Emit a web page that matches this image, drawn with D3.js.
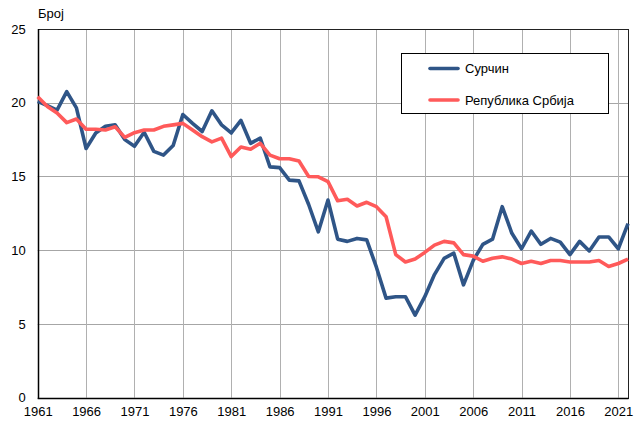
<!DOCTYPE html>
<html><head><meta charset="utf-8">
<script src="https://cdn.jsdelivr.net/npm/d3@7"></script>
<style>body{margin:0;background:#fff}svg{display:block;font-family:"Liberation Sans",Arial,sans-serif}</style>
</head><body><svg id="c" width="635" height="421"></svg>
<script>
const years = d3.range(1961, 2023);
const surcin = [20.1,19.8,19.5,20.75,19.65,16.9,17.95,18.4,18.5,17.5,17.05,18.0,16.7,16.45,17.1,19.2,18.6,18.05,19.45,18.5,17.95,18.8,17.25,17.6,15.65,15.6,14.75,14.7,13.1,11.25,13.4,10.75,10.6,10.8,10.7,8.85,6.75,6.85,6.85,5.6,6.85,8.35,9.45,9.8,7.65,9.3,10.4,10.75,12.95,11.15,10.1,11.3,10.4,10.8,10.55,9.7,10.6,9.95,10.9,10.9,10.1,11.8];
const srbija = [20.4,19.75,19.3,18.65,18.9,18.2,18.2,18.15,18.37,17.65,17.97,18.15,18.15,18.4,18.5,18.6,18.15,17.7,17.35,17.6,16.35,17.0,16.85,17.25,16.45,16.2,16.2,16.05,15.0,14.98,14.65,13.35,13.45,13.0,13.25,12.95,12.27,9.7,9.2,9.4,9.85,10.35,10.6,10.5,9.7,9.6,9.25,9.45,9.55,9.4,9.1,9.25,9.1,9.3,9.3,9.2,9.2,9.2,9.3,8.9,9.1,9.4];
const seriesNames = ["Сурчин","Република Србија"];
const colors = ["#2f5587","#ff5a5a"];
const yTicks = [0,5,10,15,20,25];
const xTicks = [1961,1966,1971,1976,1981,1986,1991,1996,2001,2006,2011,2016,2021];
const yLabel = "Број";

const svg = d3.select("#c");
const L=37.7, R=628, T=29, B=397.7;
const x = d3.scaleLinear().domain([1961,2022]).range([L,R]);
const y = d3.scaleLinear().domain([0,25]).range([B,T]);
const g = svg.append("g");
// gridlines
g.selectAll(".hg").data(yTicks.filter(v=>v>0&&v<25)).join("line")
 .attr("x1",L).attr("x2",R).attr("y1",d=>Math.round(y(d))+0.5).attr("y2",d=>Math.round(y(d))+0.5)
 .attr("stroke","#a6a6a6").attr("stroke-width",1);
g.selectAll(".vg").data(xTicks.slice(1)).join("line")
 .attr("y1",T).attr("y2",B).attr("x1",d=>Math.round(x(d))+0.5).attr("x2",d=>Math.round(x(d))+0.5)
 .attr("stroke","#b0b0b0").attr("stroke-width",1);
// frame
g.append("rect").attr("x",Math.round(L)+0.5).attr("y",T+0.5).attr("width",Math.round(R)-Math.round(L)).attr("height",Math.round(B)-T)
 .attr("fill","none").attr("stroke","#222").attr("stroke-width",1);
g.append("line").attr("x1",Math.round(L)+0.5).attr("x2",Math.round(L)+0.5).attr("y1",T).attr("y2",B+1).attr("stroke","#000").attr("stroke-width",1.5);
g.append("line").attr("x1",L).attr("x2",R+0.5).attr("y1",Math.round(B)+0.5).attr("y2",Math.round(B)+0.5).attr("stroke","#000").attr("stroke-width",1.5);
// axes labels
const yAxis = d3.axisLeft(y).tickValues(yTicks).tickSize(0).tickPadding(12);
const ya = svg.append("g").attr("transform",`translate(${L},0)`).call(yAxis);
ya.select(".domain").remove();
ya.selectAll("text").attr("font-size",13).attr("fill","#000").attr("font-family","Liberation Sans, Arial, sans-serif");
const xAxis = d3.axisBottom(x).tickValues(xTicks).tickSize(0).tickPadding(9).tickFormat(d3.format("d"));
const xa = svg.append("g").attr("transform",`translate(0,${B})`).call(xAxis);
xa.select(".domain").remove();
xa.selectAll("text").attr("font-size",13).attr("fill","#000").attr("font-family","Liberation Sans, Arial, sans-serif");
svg.append("text").attr("x",38).attr("y",18).attr("font-size",13).text(yLabel);
// lines
const line = d3.line().x((d,i)=>x(years[i])).y(d=>y(d));
[surcin, srbija].forEach((s,k)=>{
  svg.append("path").datum(s).attr("d",line).attr("fill","none").attr("stroke",colors[k])
   .attr("stroke-width",3.6).attr("stroke-linejoin","round");
});
// legend
const lg = svg.append("g");
lg.append("rect").attr("x",401.5).attr("y",53.5).attr("width",207).attr("height",60).attr("fill","#fff").attr("stroke","#000").attr("stroke-width",1);
seriesNames.forEach((n,k)=>{
  const yy = 68.5 + k*31.5;
  lg.append("line").attr("x1",430).attr("x2",458).attr("y1",yy).attr("y2",yy).attr("stroke",colors[k]).attr("stroke-width",3.6).attr("stroke-linecap","round");
  lg.append("text").attr("x",465).attr("y",yy+4.5).attr("font-size",13).text(n);
});
</script></body></html>
